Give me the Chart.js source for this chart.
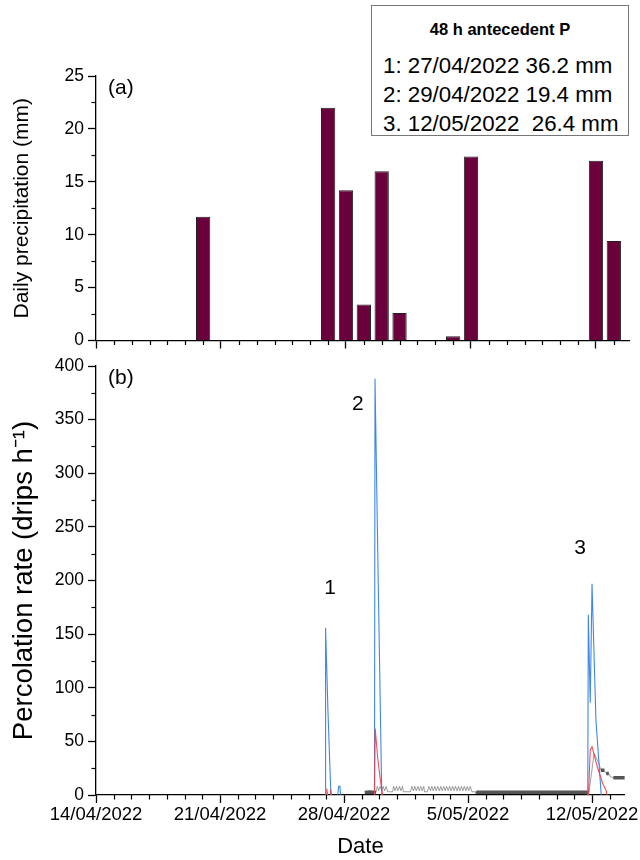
<!DOCTYPE html>
<html>
<head>
<meta charset="utf-8">
<script src="https://cdn.jsdelivr.net/npm/chart.js@4.4.1/dist/chart.umd.min.js"></script>
<style>
  html, body { margin: 0; padding: 0; background: #fff; }
  body { width: 640px; height: 860px; position: relative; overflow: hidden; font-family: "Liberation Sans", Arial, sans-serif; }
  #topWrap { position: absolute; left: 0; top: 0; width: 640px; height: 355px; }
  #botWrap { position: absolute; left: 0; top: 350px; width: 640px; height: 510px; }
  .note { position: absolute; left: 371px; top: 5px; width: 258px; height: 131px; box-sizing: border-box;
          border: 1.5px solid #777; background: #fff; z-index: 2; color: #000; }
  .note div { position: absolute; left: 11px; white-space: pre; font-size: 22.3px; line-height: 24px; }
  .note .title { left: 0; width: 100%; text-align: center; font-weight: bold; font-size: 16.5px; top: 11px; }
</style>
</head>
<body>
<div id="topWrap"><canvas id="precipChart" width="640" height="355"></canvas></div>
<div id="botWrap"><canvas id="percChart" width="640" height="510"></canvas></div>
<div class="note" id="note"></div>
<script>
// x values are days after 14/04/2022 00:00
const dayTicks = [0, 7, 14, 21, 28];
const dayTickLabels = ['14/04/2022', '21/04/2022', '28/04/2022', '5/05/2022', '12/05/2022'];
const xMax = 29.85;

// daily precipitation (mm)
const rainDays = [6, 13, 14, 15, 16, 17, 20, 21, 28, 29];
const rainMm = [11.7, 22.0, 14.2, 3.4, 16.0, 2.6, 0.4, 17.4, 17.0, 9.4];

// percolation rate (drips/h), [day, value]; null breaks the line
const bluePts = [
  [12.93, 0], [12.96, 156], [13.10, 75], [13.26, 0], [13.45, null],
  [13.64, 0], [13.70, 8], [13.77, 8], [13.81, 0], [15.0, null],
  [15.72, 0], [15.75, 388], [15.95, 180], [16.13, 0], [20.0, null],
  [27.76, 0], [27.79, 168], [27.90, 86], [28.00, 197], [28.22, 70], [28.52, 0]
];
const redPts = [
  [12.99, 0], [13.03, 6], [13.07, 0], [13.15, null],
  [13.21, 0], [13.25, 5], [13.29, 0], [14.0, null],
  [15.72, 0], [15.76, 62], [15.90, 35], [16.05, 14], [16.18, 0], [20.0, null],
  [27.80, 0], [27.90, 42], [28.00, 45], [28.08, 40], [28.30, 26], [28.60, 11], [28.80, 4], [28.85, 0]
];
const blackPts = [
  [15.17, 2.3], [15.45, 2.8], [15.80, 2.3],
  [15.88, 8], [15.96, 4], [16.04, 8], [16.13, 4], [16.21, 8], [16.29, 4], [16.38, 8], [16.46, 3],
  [16.74, 3], [16.80, 8], [16.88, 4], [16.96, 8], [17.04, 4], [17.13, 8], [17.21, 4], [17.30, 8], [17.35, 3],
  [17.75, 3], [17.83, 8], [17.92, 4], [18.00, 8], [18.08, 4], [18.17, 8], [18.25, 4], [18.33, 8], [18.42, 4], [18.50, 8], [18.55, 3],
  [18.70, 3], [18.79, 8], [18.88, 4], [18.96, 8], [19.04, 4], [19.13, 8], [19.21, 4], [19.29, 8], [19.38, 4],
  [19.46, 8], [19.54, 4], [19.63, 8], [19.71, 4], [19.79, 8], [19.88, 4], [19.96, 8], [20.04, 4], [20.13, 8],
  [20.21, 4], [20.29, 8], [20.38, 4], [20.46, 8], [20.54, 4], [20.63, 8], [20.71, 4], [20.79, 8], [20.88, 4],
  [20.96, 8], [21.04, 4], [21.13, 8], [21.22, 3],
  [21.45, 3], [21.50, 2.5], [24.60, 2.5], [27.83, 2.5],
  [28.12, 39], [28.20, 36], [28.40, 29], [28.50, 23], [28.70, 23], [28.75, 21], [28.80, 20], [28.95, 20],
  [29.05, 17], [29.20, 16], [29.85, 16]
];
// stretches where the logger trace looks like a solid band
const blackBands = [[15.1, 15.85], [21.45, 27.85], [28.45, 28.72], [28.78, 28.97], [29.15, 29.9]];

const peakText = ['1', '2', '3'];
const peakDay = [13.22, 14.78, 27.33];
const peakRate = [193, 364, 230];

const noteTitle = '48 h antecedent P';
const noteLines = ['1: 27/04/2022 36.2 mm', '2: 29/04/2022 19.4 mm', '3. 12/05/2022  26.4 mm'];

const FONT = '"Liberation Sans", Arial, sans-serif';

// legend box
const note = document.getElementById('note');
const t = document.createElement('div');
t.className = 'title';
t.textContent = noteTitle;
note.appendChild(t);
noteLines.forEach((s, i) => {
  const d = document.createElement('div');
  d.textContent = s;
  d.style.top = (48 + i * 29) + 'px';
  note.appendChild(d);
});

// minor ticks, panel letter, peak numbers
const axisExtras = {
  id: 'axisExtras',
  afterDraw(chart, args, opts) {
    const { ctx, chartArea, scales } = chart;
    const x = scales.x, y = scales.y;
    ctx.save();
    ctx.strokeStyle = '#000';
    ctx.lineWidth = 1.2;
    for (let i = 0; i <= x.max; i++) {
      if (dayTicks.includes(i)) continue;
      const px = Math.round(x.getPixelForValue(i)) + 0.5;
      ctx.beginPath();
      ctx.moveTo(px, chartArea.bottom);
      ctx.lineTo(px, chartArea.bottom + 4.5);
      ctx.stroke();
    }
    for (let i = 1; i * opts.yMinor < y.max; i += 2) {
      const py = Math.round(y.getPixelForValue(i * opts.yMinor)) + 0.5;
      ctx.beginPath();
      ctx.moveTo(chartArea.left, py);
      ctx.lineTo(chartArea.left - 4.5, py);
      ctx.stroke();
    }
    ctx.fillStyle = '#000';
    ctx.font = '21px ' + FONT;
    ctx.textBaseline = 'middle';
    ctx.textAlign = 'left';
    ctx.fillText(opts.panel, chartArea.left + 12, chartArea.top + 12);
    if (opts.peaks) {
      ctx.textAlign = 'center';
      peakText.forEach((s, i) => {
        ctx.fillText(s, x.getPixelForValue(peakDay[i]), y.getPixelForValue(peakRate[i]));
      });
    }
    ctx.restore();
  }
};

function xAxis(showLabels, height) {
  return {
    type: 'linear',
    min: 0,
    max: xMax,
    offset: false,
    afterFit: s => { s.height = height; },
    border: { color: '#000', width: 1.3 },
    grid: { offset: false, drawOnChartArea: false, drawTicks: true, tickLength: 8, tickColor: '#000', tickWidth: 1.3 },
    ticks: {
      stepSize: 7,
      includeBounds: false,
      autoSkip: false,
      maxRotation: 0,
      padding: 1,
      color: '#000',
      font: { family: FONT, size: 18.5 },
      callback: v => showLabels ? (dayTickLabels[dayTicks.indexOf(v)] || '') : ''
    }
  };
}

function yAxis(max, step, title, titleSize, titleX) {
  return {
    min: 0,
    max: max,
    afterFit: s => { s.width = 96; },
    border: { color: '#000', width: 1.3 },
    grid: { drawOnChartArea: false, drawTicks: true, tickLength: 8, tickColor: '#000', tickWidth: 1.3 },
    ticks: { stepSize: step, padding: 4, color: '#000', font: { family: FONT, size: 17.5 } },
    title: { display: true, text: title, color: '#000', font: { family: FONT, size: titleSize }, padding: { top: titleX - titleSize * 0.6, bottom: 0 } }
  };
}

new Chart(document.getElementById('precipChart'), {
  type: 'bar',
  data: {
    datasets: [{
      data: rainDays.map((d, i) => ({ x: d, y: rainMm[i] })),
      backgroundColor: '#6a003c',
      borderColor: '#222',
      borderWidth: 1,
      barPercentage: 0.8,
      categoryPercentage: 1
    }]
  },
  options: {
    responsive: false,
    animation: false,
    layout: { padding: { top: 76, right: 11, left: 0, bottom: 0 } },
    plugins: {
      legend: { display: false },
      tooltip: { enabled: false },
      axisExtras: { yMinor: 2.5, panel: '(a)', peaks: false }
    },
    scales: {
      x: xAxis(false, 13),
      y: yAxis(25, 5, 'Daily precipitation (mm)', 21, 22)
    }
  },
  plugins: [axisExtras]
});

const toXY = pts => pts.map(p => ({ x: p[0], y: p[1] }));
const inBand = (a, b) => blackBands.some(r => a >= r[0] && b <= r[1]);

new Chart(document.getElementById('percChart'), {
  type: 'line',
  data: {
    datasets: [
      { data: toXY(redPts), borderColor: 'rgba(238, 60, 70, 0.9)', borderWidth: 1.1 },
      { data: toXY(bluePts), borderColor: 'rgba(55, 128, 230, 0.95)', borderWidth: 1.1 },
      {
        data: toXY(blackPts),
        borderColor: 'rgba(55, 55, 55, 0.8)',
        borderWidth: 1,
        segment: {
          borderWidth: c => inBand(c.p0.parsed.x, c.p1.parsed.x) ? 3.5 : 1,
          borderColor: c => inBand(c.p0.parsed.x, c.p1.parsed.x) ? 'rgba(55, 55, 55, 0.85)' : 'rgba(80, 80, 80, 0.55)'
        }
      }
    ]
  },
  options: {
    responsive: false,
    animation: false,
    spanGaps: false,
    elements: { point: { radius: 0 }, line: { tension: 0 } },
    layout: { padding: { top: 16, right: 11, left: 0, bottom: 0 } },
    plugins: {
      legend: { display: false },
      tooltip: { enabled: false },
      axisExtras: { yMinor: 25, panel: '(b)', peaks: true }
    },
    scales: {
      x: Object.assign(xAxis(true, 65), {
        title: { display: true, text: 'Date', color: '#000', font: { family: FONT, size: 22 }, padding: { top: 0, bottom: 0 } }
      }),
      y: yAxis(400, 50, 'Percolation rate (drips h\u207B\u00B9)', 27.5, 24)
    }
  },
  plugins: [axisExtras]
});
</script>
</body>
</html>
